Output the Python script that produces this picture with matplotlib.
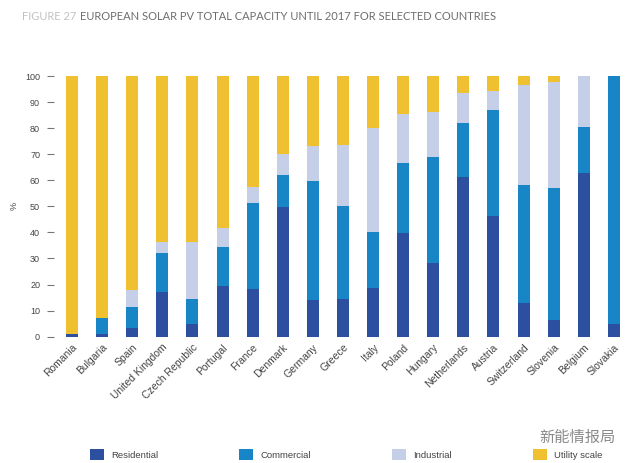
import numpy as np
import matplotlib
matplotlib.use("Agg")
import matplotlib.pyplot as plt
from matplotlib.patches import Patch

countries = ["Romania", "Bulgaria", "Spain", "United Kingdom", "Czech Republic",
             "Portugal", "France", "Denmark", "Germany", "Greece", "Italy",
             "Poland", "Hungary", "Netherlands", "Austria", "Switzerland",
             "Slovenia", "Belgium", "Slovakia"]

# shares in %
residential = [1.0, 1.0, 3.2, 17.0, 4.7, 19.4, 18.2, 49.6, 14.1, 14.3, 18.6,
               39.7, 28.1, 61.1, 46.3, 12.8, 6.4, 62.7, 4.7]
commercial = [0.0, 6.3, 8.1, 15.2, 9.6, 15.1, 33.0, 12.3, 45.7, 36.0, 21.7,
              27.1, 41.0, 20.7, 40.7, 45.4, 50.8, 17.6, 95.3]
industrial = [0.0, 0.0, 6.6, 4.2, 22.1, 7.1, 6.1, 8.3, 13.3, 23.2, 39.6,
              18.6, 17.2, 11.8, 7.4, 38.3, 40.4, 19.7, 0.0]
utility = [99.0, 92.7, 82.1, 63.6, 63.6, 58.4, 42.7, 29.8, 26.9, 26.5, 20.1,
           14.6, 13.7, 6.4, 5.6, 3.5, 2.4, 0.0, 0.0]

series = ["Residential", "Commercial", "Industrial", "Utility scale"]
colors = ["#2c509f", "#1886c6", "#c5d0e8", "#efc131"]

plt.rcParams["font.family"] = ["Liberation Sans", "DejaVu Sans"]

fig = plt.figure(figsize=(6.28, 4.63), dpi=100)
ax = fig.add_axes([54 / 628, (463 - 336.7) / 463, 574 / 628, 260.7 / 463])

x = np.arange(len(countries))
bottom = np.zeros(len(countries))
for vals, col in zip([residential, commercial, industrial, utility], colors):
    ax.bar(x, vals, width=0.4, bottom=bottom, color=col, linewidth=0)
    bottom += np.array(vals)

ax.set_xlim(-0.6, 18.47)
ax.set_ylim(0, 100)
ax.set_yticks(range(0, 101, 10))
for s in ax.spines.values():
    s.set_visible(False)
ax.tick_params(axis="y", length=5, width=0.8, color="#777777", pad=5,
               labelsize=6.5, labelcolor="#444444")
ax.tick_params(axis="x", length=0, pad=4, labelsize=7.5, labelcolor="#444444")
ax.set_xticks(x)
ax.set_xticklabels(countries, rotation=45, ha="right", rotation_mode="anchor")
ax.set_ylabel("%", fontsize=6.5, color="#444444", labelpad=5)

t1 = fig.text(22 / 628, 1 - 17 / 463, "FIGURE 27", fontsize=8, color="#c2c2c2",
              family="Lato", va="center", ha="left")
fig.canvas.draw()
bb = t1.get_window_extent()
fig.text((bb.x1 + 4) / 628, 1 - 17 / 463,
         "EUROPEAN SOLAR PV TOTAL CAPACITY UNTIL 2017 FOR SELECTED COUNTRIES",
         fontsize=8, color="#6e6e6e", family="Lato", va="center", ha="left")

handles = [Patch(facecolor=c, edgecolor="none") for c in colors]
fig.legend(handles, series, loc="center left", ncol=4, mode="expand",
           bbox_to_anchor=(90 / 628, 1 - 457 / 463, 512 / 628, 0.01),
           frameon=False, fontsize=6.8, handlelength=1.5, handleheight=1.5,
           handletextpad=0.7, borderpad=0, borderaxespad=0, labelcolor="#444444")

fig.text(616 / 628, 1 - 437 / 463, "新能情报局", fontsize=11, color="#8a8a8a",
         family=["Noto Sans CJK SC"], ha="right", va="center")

fig.savefig("out.png", dpi=100)
